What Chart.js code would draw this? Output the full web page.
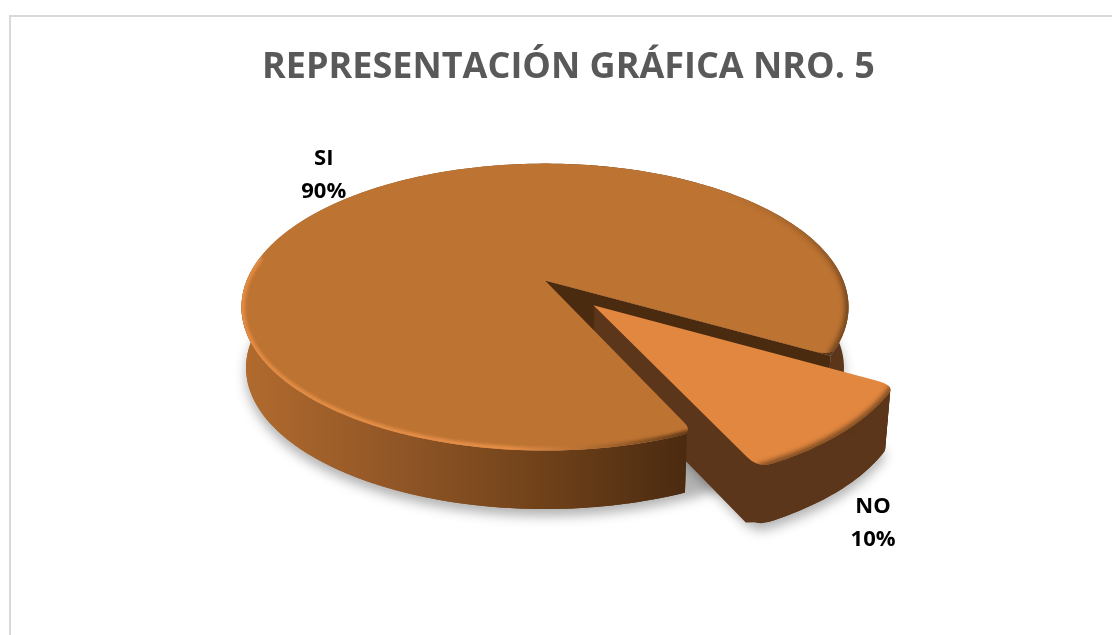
<!DOCTYPE html>
<html>
<head>
<meta charset="utf-8">
<script src="https://cdn.jsdelivr.net/npm/chart.js@4"></script>
<style>
  html, body { margin: 0; height: 100%; background: #fff; overflow: hidden; }
  #marco { position: absolute; left: 9px; top: 15px; width: 1130px; height: 640px;
           border: 2px solid #d9d9d9; box-sizing: border-box; background: #fff; }
  canvas { position: absolute; left: 0; top: 0; }
</style>
</head>
<body>
<div id="marco"><canvas id="grafico" width="1115" height="620"></canvas></div>
<script>
var titulo = "REPRESENTACIÓN GRÁFICA NRO. 5";
var categorias = ["SI", "NO"];
var valores = [90, 10];
var coloresCara = ["#bd7332", "#e2873f"];

var grados = Math.PI / 180;

// Perspectiva del disco: ejes, fuga, grosor y desplazamiento en pixeles
var P = { a: 298.3, b: 138.6, k: 0.1846, grosor: 61, encoge: 0.015, dx: -23.5 };

function punto3d(c, X, Y, z) {
  var den = 1 - P.k * Y;
  var e = 1 - P.encoge * z;
  return [c.x + e * P.a * X / den, c.y + e * P.b * Y / den + P.grosor * z];
}

function arco3d(c, ox, oy, r, a0, a1, z) {
  var pts = [];
  var n = Math.max(2, Math.ceil(Math.abs(a1 - a0) / (1 * grados)));
  for (var i = 0; i <= n; i++) {
    var t = a0 + (a1 - a0) * i / n;
    pts.push(punto3d(c, ox + r * Math.cos(t), oy + r * Math.sin(t), z));
  }
  return pts;
}

function polar(c, ox, oy, r, ang, z) {
  return punto3d(c, ox + r * Math.cos(ang), oy + r * Math.sin(ang), z);
}

function trazar(ctx, pts, seguir) {
  for (var i = 0; i < pts.length; i++) {
    if (i === 0 && !seguir) ctx.moveTo(pts[i][0], pts[i][1]);
    else ctx.lineTo(pts[i][0], pts[i][1]);
  }
}

// Contorno de una porcion a la altura z, con las esquinas exteriores redondeadas
function cara(ctx, c, ox, oy, a0, a1, z) {
  var d = 2.5 * grados;
  var ini = polar(c, ox, oy, 0.945, a0, z);
  var esq0 = polar(c, ox, oy, 1, a0, z);
  var fin = polar(c, ox, oy, 0.945, a1, z);
  var esq1 = polar(c, ox, oy, 1, a1, z);
  var arco = arco3d(c, ox, oy, 1, a0 + d, a1 - d, z);
  var centro = punto3d(c, ox, oy, z);
  ctx.beginPath();
  ctx.moveTo(centro[0], centro[1]);
  ctx.lineTo(ini[0], ini[1]);
  ctx.quadraticCurveTo(esq0[0], esq0[1], arco[0][0], arco[0][1]);
  trazar(ctx, arco, true);
  ctx.quadraticCurveTo(esq1[0], esq1[1], fin[0], fin[1]);
  ctx.closePath();
}

function anillo(ctx, c, ox, oy, a0, a1, estilo) {
  ctx.beginPath();
  trazar(ctx, arco3d(c, ox, oy, 1, a0, a1, 0));
  trazar(ctx, arco3d(c, ox, oy, 1, a1, a0, 1), true);
  ctx.closePath();
  ctx.fillStyle = estilo;
  ctx.fill();
}

// Extrusion de la porcion: se repite su contorno desde la base hasta la cara,
// y la base termina en esquinas vivas
function extruir(ctx, c, ox, oy, a0, a1, estilo) {
  ctx.fillStyle = estilo;
  for (var i = 60; i > 0; i--) {
    cara(ctx, c, ox, oy, a0, a1, i / 60);
    ctx.fill();
  }
  ctx.beginPath();
  trazar(ctx, [punto3d(c, ox, oy, 1), polar(c, ox, oy, 0.985, a0, 1)]);
  trazar(ctx, arco3d(c, ox, oy, 1, a0 + 2.5 * grados, a1 - 2.5 * grados, 1), true);
  trazar(ctx, [polar(c, ox, oy, 0.975, a1 + 0.8 * grados, 1)], true);
  ctx.closePath();
  ctx.fill();
}

function pared(ctx, c, ox, oy, ang, r, estilo) {
  var q = [punto3d(c, ox, oy, 0), polar(c, ox, oy, r, ang, 0), polar(c, ox, oy, r, ang, 1), punto3d(c, ox, oy, 1)];
  ctx.beginPath();
  trazar(ctx, q);
  ctx.closePath();
  ctx.fillStyle = estilo;
  ctx.fill();
}

// Borde difuminado de la cara, recortado a la propia cara
function bisel(ctx, c, ox, oy, a0, a1, caraA0, caraA1, estilo, ancho, blur) {
  ctx.save();
  cara(ctx, c, ox, oy, caraA0, caraA1, 0);
  ctx.clip();
  ctx.filter = "blur(" + blur + "px)";
  ctx.beginPath();
  trazar(ctx, arco3d(c, ox, oy, 1, a0, a1, 0));
  ctx.strokeStyle = estilo;
  ctx.lineWidth = ancho;
  ctx.stroke();
  ctx.restore();
}

var pastel3d = {
  id: "pastel3d",
  beforeDatasetsDraw: function (chart) {
    var ctx = chart.ctx;
    var arcos = chart.getDatasetMeta(0).data;
    var si = arcos[0], no = arcos[1];
    var c = { x: si.x + P.dx, y: si.y };

    var siA0 = si.startAngle, siA1 = si.endAngle;
    var noA0 = no.startAngle, noA1 = no.endAngle;
    var noMedio = (noA0 + noA1) / 2;
    var d = no.options.offset / no.outerRadius;
    var ox = d * Math.cos(noMedio), oy = d * Math.sin(noMedio);

    // Sombra sobre el fondo
    ctx.save();
    ctx.filter = "blur(6px)";
    ctx.fillStyle = "rgba(0,0,0,0.30)";
    ctx.translate(0, 7);
    ctx.beginPath();
    trazar(ctx, arco3d(c, 0, 0, 1, 0, 2 * Math.PI, 1));
    ctx.closePath();
    ctx.fill();
    cara(ctx, c, ox, oy, noA0, noA1, 1);
    ctx.fill();
    ctx.restore();

    // Degradado del lateral de la porcion grande
    var lateral = ctx.createLinearGradient(c.x - 305, 0, c.x + 305, 0);
    lateral.addColorStop(0, "#b26b2e");
    lateral.addColorStop(0.27, "#8f5526");
    lateral.addColorStop(0.5, "#6f4119");
    lateral.addColorStop(0.735, "#4a2a10");
    lateral.addColorStop(0.74, "#5c361a");
    lateral.addColorStop(1, "#5c361a");

    var inicioSi = siA0 + 1.2 * grados;
    anillo(ctx, c, 0, 0, inicioSi, siA1, lateral);
    pared(ctx, c, 0, 0, noA0, 1, "#4b2b10");

    // Esquina de la porcion grande, bajo el redondeo de su cara
    ctx.beginPath();
    trazar(ctx, [punto3d(c, 0, 0, 0)]);
    trazar(ctx, arco3d(c, 0, 0, 1, siA1 - 6 * grados, siA1, 0), true);
    ctx.closePath();
    ctx.fillStyle = "#5c361a";
    ctx.fill();

    // Porcion separada
    extruir(ctx, c, ox, oy, noA0, noA1, "#5c361a");
    cara(ctx, c, ox, oy, noA0, noA1, 0);
    ctx.fillStyle = no.options.backgroundColor;
    ctx.fill();
    bisel(ctx, c, ox, oy, noA0, noA1, noA0, noA1, "#7a4a22", 7, 2.5);

    // Porcion grande, por delante de la separada
    anillo(ctx, c, 0, 0, inicioSi, 190 * grados, lateral);
    cara(ctx, c, 0, 0, siA0, siA1, 0);
    ctx.fillStyle = si.options.backgroundColor;
    ctx.fill();

    var brillo = ctx.createLinearGradient(c.x - 305, 0, c.x + 145, 0);
    brillo.addColorStop(0, "#e28b44");
    brillo.addColorStop(0.6, "#e58e47");
    brillo.addColorStop(0.82, "#a5652c");
    brillo.addColorStop(1, "#5e3716");
    bisel(ctx, c, 0, 0, siA0, 190 * grados, siA0, siA1, brillo, 7, 1.5);

    var sombraBorde = ctx.createLinearGradient(0, c.y - 90, 0, c.y + 20);
    sombraBorde.addColorStop(0, "rgba(110,67,29,0)");
    sombraBorde.addColorStop(1, "rgba(110,67,29,1)");
    bisel(ctx, c, 0, 0, 300 * grados, siA1, siA0, siA1, sombraBorde, 7, 2.5);

    // Etiquetas de categoria y porcentaje
    var sitios = [
      { r: 1.27, z: 0, ox: 0, oy: 0, dx: -3, dy: 5 },
      { r: 1.15, z: 1, ox: ox, oy: oy, dx: -10, dy: 10 }
    ];
    ctx.fillStyle = "#000";
    ctx.font = "bold 22px 'Open Sans'";
    ctx.textAlign = "center";
    ctx.textBaseline = "middle";
    arcos.forEach(function (arco, i) {
      var m = (arco.startAngle + arco.endAngle) / 2;
      var s = sitios[i];
      var p = polar(c, s.ox, s.oy, s.r, m, s.z);
      ctx.fillText(categorias[i], p[0] + s.dx, p[1] + s.dy - 16.5);
      ctx.fillText(valores[i] + "%", p[0] + s.dx, p[1] + s.dy + 16.5);
    });

    return false;
  }
};

new Chart(document.getElementById("grafico"), {
  type: "pie",
  data: {
    labels: categorias,
    datasets: [{
      data: valores,
      backgroundColor: coloresCara,
      borderWidth: 0,
      offset: [0, 50],
      radius: 215
    }]
  },
  options: {
    responsive: false,
    animation: false,
    rotation: 155.5,
    layout: { padding: { bottom: 167 } },
    plugins: {
      legend: { display: false },
      tooltip: { enabled: false },
      title: {
        display: true,
        text: titulo,
        color: "#595959",
        font: { family: "'Open Sans'", size: 36, weight: "bold", lineHeight: 1.2 },
        padding: { top: 29, bottom: 2 }
      }
    }
  },
  plugins: [pastel3d]
});
</script>
</body>
</html>
